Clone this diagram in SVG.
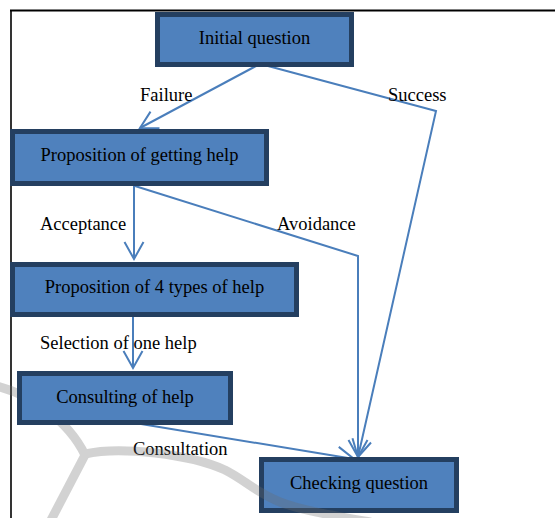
<svg xmlns="http://www.w3.org/2000/svg" width="555" height="518" viewBox="0 0 555 518">
<style>
.box{fill:#4F81BD;stroke:#243F60;stroke-width:5}
.t{font-family:"Liberation Serif","Times New Roman",serif;font-size:18.5px;fill:#000}
.c{text-anchor:middle}
.ln{fill:none;stroke:#4A7EBB;stroke-width:2;marker-end:url(#ah)}
.wm{fill:none;stroke:#6a6a6a;stroke-width:9;stroke-linecap:round;stroke-linejoin:round}
</style>
<defs>
<marker id="ah" markerUnits="userSpaceOnUse" markerWidth="24" markerHeight="24" viewBox="-20 -12 24 24" refX="0" refY="0" orient="auto">
<path d="M-17,-9.5 L0,0 L-17,9.5" fill="none" stroke="#4A7EBB" stroke-width="2"/>
</marker>
</defs>
<rect width="555" height="518" fill="#fff"/>
<g id="frame">
<line x1="10" y1="10.5" x2="555" y2="10.5" stroke="#000" stroke-width="2"/>
<line x1="11" y1="10" x2="11" y2="518" stroke="#000" stroke-width="1.6"/>
</g>
<g id="connectors">
<path class="ln" d="M256,66 L140,128"/>
<path class="ln" d="M268,66 L436,111 L358,457"/>
<path class="ln" d="M134,186 L134,259"/>
<path class="ln" d="M135,186 L358,256 L358,457"/>
<path class="ln" d="M133,317 L133,368"/>
<path class="ln" d="M135,423 L354,459"/>
</g>
<g id="labels">
<text class="t" x="140" y="101">Failure</text>
<text class="t" x="388" y="101">Success</text>
<text class="t" x="40" y="230">Acceptance</text>
<text class="t" x="277" y="230">Avoidance</text>
<text class="t" x="40" y="349">Selection of one help</text>
<text class="t" x="133" y="455">Consultation</text>
</g>
<g id="n5">
<rect class="box" x="261.5" y="459.5" width="195" height="51"/>
<text class="t c" x="359" y="489">Checking question</text>
</g>
<g id="watermark" opacity="0.3">
<path class="wm" d="M-4,386 C30,394 68,420 85,455 L50,522 M85,454 C120,446 190,454 225,470 C245,480 255,492 280,502 C300,510 330,515 370,522"/>
</g>
<g id="n1">
<rect class="box" x="157.5" y="14.5" width="194" height="50"/>
<text class="t c" x="254.5" y="44">Initial question</text>
</g>
<g id="n2">
<rect class="box" x="12.5" y="131.5" width="254" height="52"/>
<text class="t c" x="139.5" y="161">Proposition of getting help</text>
</g>
<g id="n3">
<rect class="box" x="12.5" y="264.5" width="284" height="50"/>
<text class="t c" x="154.5" y="293">Proposition of 4 types of help</text>
</g>
<g id="n4">
<rect class="box" x="19.5" y="373.5" width="211" height="49"/>
<text class="t c" x="125" y="403">Consulting of help</text>
</g>
</svg>
